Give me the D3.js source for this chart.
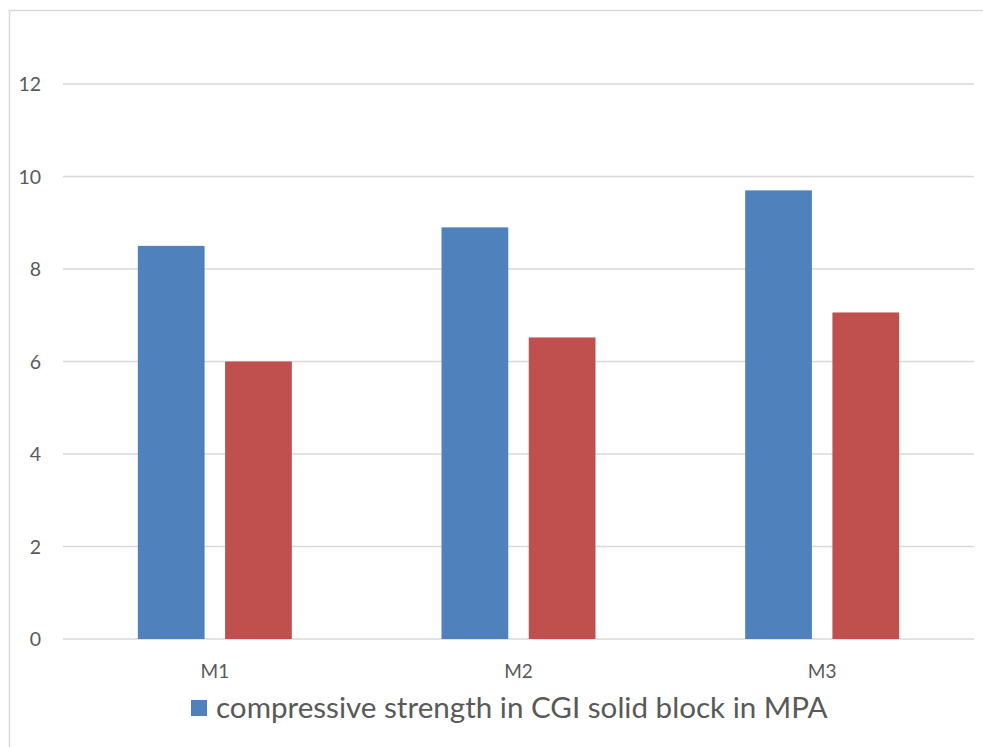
<!DOCTYPE html>
<html><head><meta charset="utf-8">
<script src="https://cdn.jsdelivr.net/npm/d3@7"></script>
<style>body{margin:0;background:#fff;} svg{display:block;}</style>
</head><body>
<svg id="chart" width="983" height="747"></svg>
<script>
const categories = ["M1", "M2", "M3"];
const seriesNames = ["compressive strength in CGI solid block in MPA", "series2"];
const blueValues = [8.5, 8.9, 9.7];
const redValues = [6.0, 6.52, 7.06];
const yTicks = [0, 2, 4, 6, 8, 10, 12];

(function () {
const svg = d3.select("#chart");
const font = "Lato, 'Open Sans', sans-serif";
const pLeft = 63, pRight = 974, pTop = 84, pBottom = 639;

svg.append("rect").attr("x", 9.5).attr("y", 10.5).attr("width", 990).attr("height", 760)
  .attr("fill", "none").attr("stroke", "#d9d9d9").attr("stroke-width", 1.5);

const x = d3.scaleBand().domain(categories).range([pLeft, pRight]).padding(0);
const y = d3.scaleLinear().domain([0, 12]).range([pBottom, pTop]);

const grid = svg.append("g");
grid.selectAll("line").data(yTicks).join("line")
  .attr("x1", pLeft).attr("x2", pRight)
  .attr("y1", d => y(d)).attr("y2", d => y(d))
  .attr("stroke", "#d9d9d9").attr("stroke-width", 1.5);

const yAxis = d3.axisLeft(y).tickValues(yTicks).tickSize(0).tickPadding(0).tickFormat(d3.format("d"));
const ya = svg.append("g").attr("transform", "translate(41,0)").call(yAxis);
ya.select(".domain").remove();
ya.selectAll("text").attr("font-family", font).attr("font-size", 19.5).attr("fill", "#595959").attr("dy", "0.35em");

const xAxis = d3.axisBottom(x).tickSize(0).tickPadding(0);
const xa = svg.append("g").attr("transform", "translate(0,671)").call(xAxis);
xa.select(".domain").remove();
xa.selectAll("text").attr("font-family", font).attr("font-size", 19).attr("fill", "#595959").attr("dy", "0.35em");

const inner = d3.scaleBand().domain([0, 1]).range([-77, 77]).paddingInner(0.235);
const data = categories.map((c, i) => ({c, v: [blueValues[i], redValues[i]]}));
const colors = ["#4f81bd", "#c0504d"];
const g = svg.append("g");
data.forEach(d => {
  d.v.forEach((v, k) => {
    g.append("rect")
      .attr("x", x(d.c) + x.bandwidth() / 2 + inner(k))
      .attr("width", inner.bandwidth())
      .attr("y", y(v)).attr("height", y(0) - y(v))
      .attr("fill", colors[k]);
  });
});

const lg = svg.append("g");
lg.append("rect").attr("x", 191).attr("y", 700).attr("width", 16).attr("height", 16).attr("fill", colors[0]);
const lt = lg.append("text").attr("x", 216).attr("y", 708).attr("dy", "0.35em")
  .attr("font-family", font).attr("font-size", 24).attr("fill", "#595959").text(seriesNames[0]);
const w = lt.node().getComputedTextLength();
lt.attr("font-size", 24 * 612 / w);
})();
</script>
</body></html>
